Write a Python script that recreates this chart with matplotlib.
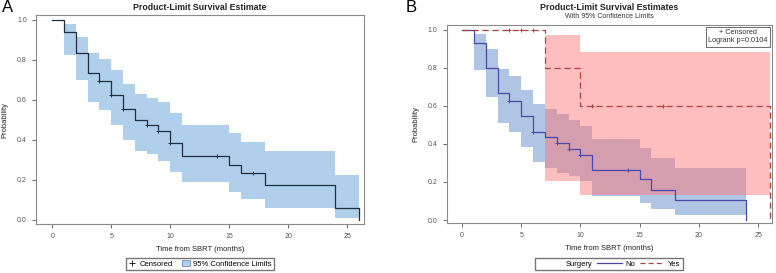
import numpy as np
import matplotlib
matplotlib.use("Agg")
import matplotlib.pyplot as plt
from matplotlib.lines import Line2D
from matplotlib.patches import Patch

plt.rcParams['font.family'] = ['Liberation Sans', 'DejaVu Sans']

# panel A: all patients
times_a = [0, 1, 2, 3, 4, 5, 6, 7, 8, 9, 10, 11, 15, 16, 18, 24, 26]
surv_a = [1.0, 0.938, 0.837, 0.735, 0.693, 0.625, 0.553, 0.50, 0.473, 0.443,
          0.385, 0.32, 0.275, 0.233, 0.173, 0.057, 0.0]
ci_t_a = [1, 2, 3, 4, 5, 6, 7, 8, 9, 10, 11, 15, 16, 18, 24, 26]
lo_a = [0.825, 0.70, 0.59, 0.548, 0.475, 0.40, 0.346, 0.329, 0.292, 0.24,
        0.187, 0.138, 0.103, 0.058, 0.008, 0.008]
hi_a = [0.98, 0.915, 0.837, 0.803, 0.747, 0.68, 0.63, 0.609, 0.588, 0.533,
        0.472, 0.435, 0.39, 0.343, 0.222, 0.222]
cens_a = [4, 5, 6, 8, 9, 10, 14, 17]

# panel B: surgery = No
times_n = [0, 1, 2, 3, 4, 5, 6, 7, 8, 9, 10, 11, 15, 16, 18, 24]
surv_n = [1.0, 0.93, 0.80, 0.667, 0.625, 0.547, 0.465, 0.437, 0.407, 0.375,
          0.34, 0.265, 0.214, 0.158, 0.105, 0.0]
ci_t_n = [1, 2, 3, 4, 5, 6, 7, 8, 9, 10, 11, 15, 16, 18, 24]
lo_n = [0.79, 0.646, 0.512, 0.46, 0.384, 0.305, 0.275, 0.249, 0.232, 0.205,
        0.128, 0.088, 0.056, 0.026, 0.026]
hi_n = [0.979, 0.90, 0.795, 0.758, 0.684, 0.609, 0.585, 0.558, 0.526, 0.496,
        0.425, 0.377, 0.325, 0.272, 0.272]
cens_n = [4, 6, 8, 9, 10, 14]

# panel B: surgery = Yes
times_y = [0, 7, 10, 26]
surv_y = [1.0, 0.8, 0.6, 0.0]
ci_t_y = [7, 10, 26]
lo_y = [0.205, 0.13, 0.13]
hi_y = [0.974, 0.885, 0.885]
cens_y = [4, 5, 6, 11, 17]

xticks = [0, 5, 10, 15, 20, 25]
yticks = [0.0, 0.2, 0.4, 0.6, 0.8, 1.0]


def step_at(t, times, surv):
    i = np.searchsorted(times, t, side='right') - 1
    return np.array(surv)[i]


def style_axes(ax, xlim, ylim):
    ax.set_xlim(*xlim)
    ax.set_ylim(*ylim)
    ax.set_xticks(xticks)
    ax.set_yticks(yticks)
    ax.set_yticklabels(['%.1f' % v for v in yticks])
    ax.tick_params(labelsize=5, colors='#555555', length=3, width=0.6)
    for s in ax.spines.values():
        s.set_color('#8a8a8a')
        s.set_linewidth(0.8)
    ax.set_xlabel('Time from SBRT (months)', fontsize=5.5, color='#222222', labelpad=4)
    ax.set_ylabel('Probability', fontsize=5.5, color='#222222', labelpad=6)


fig = plt.figure(figsize=(7.76, 2.73), dpi=100)

# ---- A
axa = fig.add_axes([36 / 776, 1 - 224 / 273, 328 / 776, 209 / 273])
axa.fill_between(ci_t_a, lo_a, hi_a, step='post', color='#b0cfea', lw=0)
axa.step(times_a, surv_a, where='post', color='#1f2f3f', lw=0.9)
axa.plot(cens_a, [step_at(t, times_a, surv_a) for t in cens_a], '+',
         color='#1f2f3f', ms=3.5, mew=0.7)
style_axes(axa, (-1.38, 26.42), (-0.022, 1.025))
fig.text(200 / 776, 1 - 7 / 273, 'Product-Limit Survival Estimate', ha='center', va='center',
         fontsize=6.3, fontweight='bold', color='#222222')
fig.text(8 / 776, 1 - 8 / 273, 'A', fontsize=12, va='center', ha='center')
fig.legend(handles=[Line2D([], [], ls='none', marker='+', color='#222222', ms=4, mew=0.7),
                    Patch(facecolor='#b0cfea', edgecolor='#6f8fb0', lw=0.6)],
           labels=['Censored', '95% Confidence Limits'], ncol=2, fontsize=5.5,
           loc='center', bbox_to_anchor=(200 / 776, 1 - 264 / 273), frameon=True,
           fancybox=False, edgecolor='#555555', handlelength=1.0, handletextpad=0.5,
           columnspacing=1.2, borderpad=0.3)

# ---- B
axb = fig.add_axes([446.7 / 776, 1 - 223.3 / 273, 325.6 / 776, 198.8 / 273])
axb.fill_between(ci_t_n, lo_n, hi_n, step='post', color='#b0c4e4', lw=0)
axb.fill_between(ci_t_y, lo_y, hi_y, step='post', color='#ff7575', alpha=0.47, lw=0)
axb.step(times_n, surv_n, where='post', color='#4a48aa', lw=0.9)
axb.plot(cens_n, [step_at(t, times_n, surv_n) for t in cens_n], '+',
         color='#4a48aa', ms=3.5, mew=0.7)
axb.step(times_y, surv_y, where='post', color='#b04040', lw=0.9, dashes=(5, 3))
axb.plot(cens_y, [step_at(t, times_y, surv_y) for t in cens_y], '+',
         color='#b04040', ms=3.5, mew=0.7)
style_axes(axb, (-1.29, 26.2), (-0.017, 1.027))
axb.text(0.986, 0.975, '+ Censored\nLogrank p=0.0104', transform=axb.transAxes,
         ha='right', va='top', fontsize=5.3, color='#333333', multialignment='center',
         bbox=dict(boxstyle='square,pad=0.3', fc='white', ec='#555555', lw=0.6))
fig.text(609 / 776, 1 - 7 / 273, 'Product-Limit Survival Estimates', ha='center', va='center',
         fontsize=6.3, fontweight='bold', color='#222222')
fig.text(609 / 776, 1 - 17 / 273, 'With 95% Confidence Limits', ha='center', va='center',
         fontsize=5, color='#333333')
fig.text(411 / 776, 1 - 8 / 273, 'B', fontsize=12, va='center', ha='center')
fig.legend(handles=[Line2D([], [], ls='none'),
                    Line2D([], [], color='#4a48aa', lw=0.9),
                    Line2D([], [], color='#b04040', lw=0.9, dashes=(4, 2.5))],
           labels=['Surgery', 'No', 'Yes'], ncol=3, fontsize=5.5,
           loc='center', bbox_to_anchor=(609 / 776, 1 - 264 / 273), frameon=True,
           fancybox=False, edgecolor='#555555', handlelength=3.2, handletextpad=0.5,
           columnspacing=0.6, borderpad=0.3)

fig.savefig('out.png', dpi=100)
